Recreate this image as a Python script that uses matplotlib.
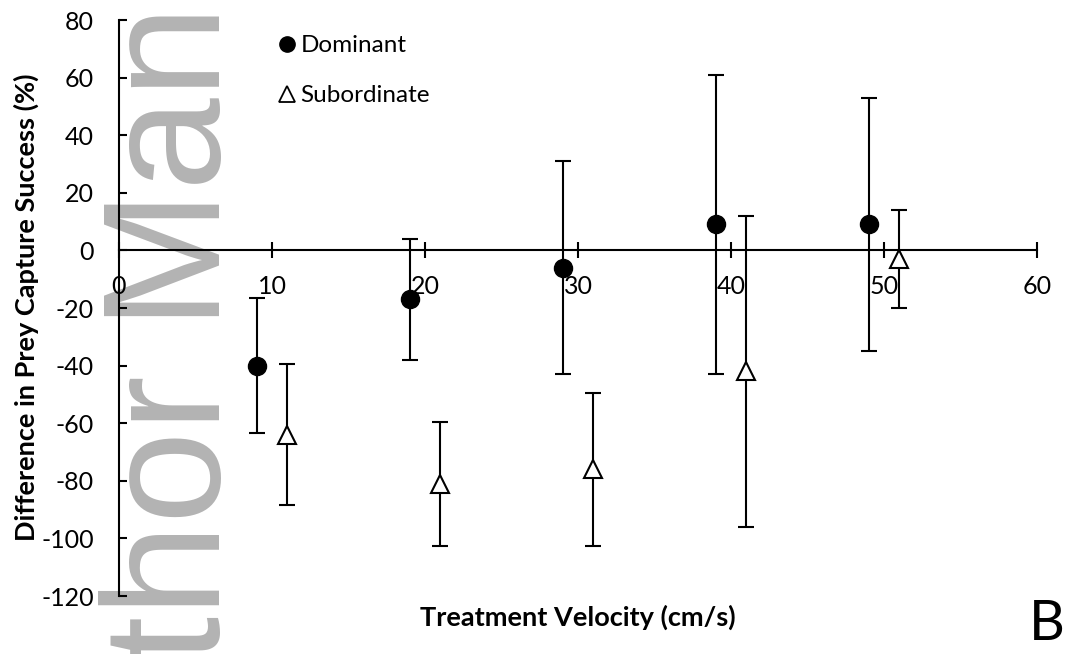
import matplotlib.pyplot as plt
from matplotlib.lines import Line2D

plt.rcParams["font.family"] = ["Lato", "DejaVu Sans"]
plt.rcParams["axes.unicode_minus"] = False

# treatment velocity (cm/s); groups are nudged apart on x so the bars don't overlap
dom_x = [9, 19, 29, 39, 49]
dom_y = [-40, -17, -6, 9, 9]
dom_err = [23.5, 21, 37, 52, 44]

sub_x = [11, 21, 31, 41, 51]
sub_y = [-64, -81, -76, -42, -3]
sub_err = [24.5, 21.5, 26.5, 54, 17]

xticks = [0, 10, 20, 30, 40, 50, 60]
yticks = [-120, -100, -80, -60, -40, -20, 0, 20, 40, 60, 80]

W, H = 1067, 654
fig = plt.figure(figsize=(W / 100, H / 100), dpi=100)
fig.patch.set_facecolor("white")
ax = fig.add_axes([119 / W, 58 / H, (1037 - 119) / W, (596 - 20) / H])
ax.patch.set_alpha(0)

ax.errorbar(dom_x, dom_y, yerr=dom_err, fmt="o", color="black",
            markersize=13, elinewidth=1.5, capsize=5.5, capthick=1.5, zorder=4)
ax.errorbar(sub_x, sub_y, yerr=sub_err, fmt="^", color="black",
            markerfacecolor="white", markeredgecolor="black", markeredgewidth=1.5,
            markersize=13.5, elinewidth=1.5, capsize=5.5, capthick=1.5, zorder=4)

ax.set_xlim(0, 60)
ax.set_ylim(-120, 80)
ax.set_xticks(xticks)
ax.set_yticks(yticks)

for side in ("top", "right"):
    ax.spines[side].set_visible(False)
ax.spines["bottom"].set_position(("data", 0))
ax.spines["left"].set_linewidth(1.5)
ax.spines["bottom"].set_linewidth(1.5)

ax.tick_params(axis="x", direction="inout", length=12, width=1.5, pad=12,
               labelsize=18)
ax.tick_params(axis="y", direction="in", length=5.5, width=1.5, pad=18,
               labelsize=18)

# faint page watermark sitting behind the axes
ax.text(220 / W, 1 - 5 / H, "thor Man", transform=fig.transFigure,
        family=["Liberation Sans"], fontsize=120, color="#b3b3b3",
        rotation=90, rotation_mode="anchor", ha="right", va="baseline",
        zorder=0, clip_on=False)

legend_handles = [
    Line2D([], [], marker="o", linestyle="none", color="black", markersize=11),
    Line2D([], [], marker="^", linestyle="none", markerfacecolor="white",
           markeredgecolor="black", markeredgewidth=1.3, markersize=12),
]
ax.legend(legend_handles, ["Dominant", "Subordinate"], loc="upper left",
          bbox_to_anchor=(275 / W, 1 - 35 / H), bbox_transform=fig.transFigure,
          frameon=False, fontsize=17.5, handletextpad=0.05, handlelength=1.0,
          labelspacing=1.2, borderpad=0, borderaxespad=0)

fig.text(26 / W, 1 - 307 / H, "Difference in Prey Capture Success (%)",
         rotation=90, ha="center", va="center", fontsize=19.5, fontweight="bold")
fig.text(578 / W, 1 - 617 / H, "Treatment Velocity (cm/s)",
         ha="center", va="center", fontsize=19.5, fontweight="bold")
fig.text(1047 / W, 1 - 625 / H, "B", ha="center", va="center", fontsize=40)

fig.savefig("out.png", dpi=100, facecolor="white")
